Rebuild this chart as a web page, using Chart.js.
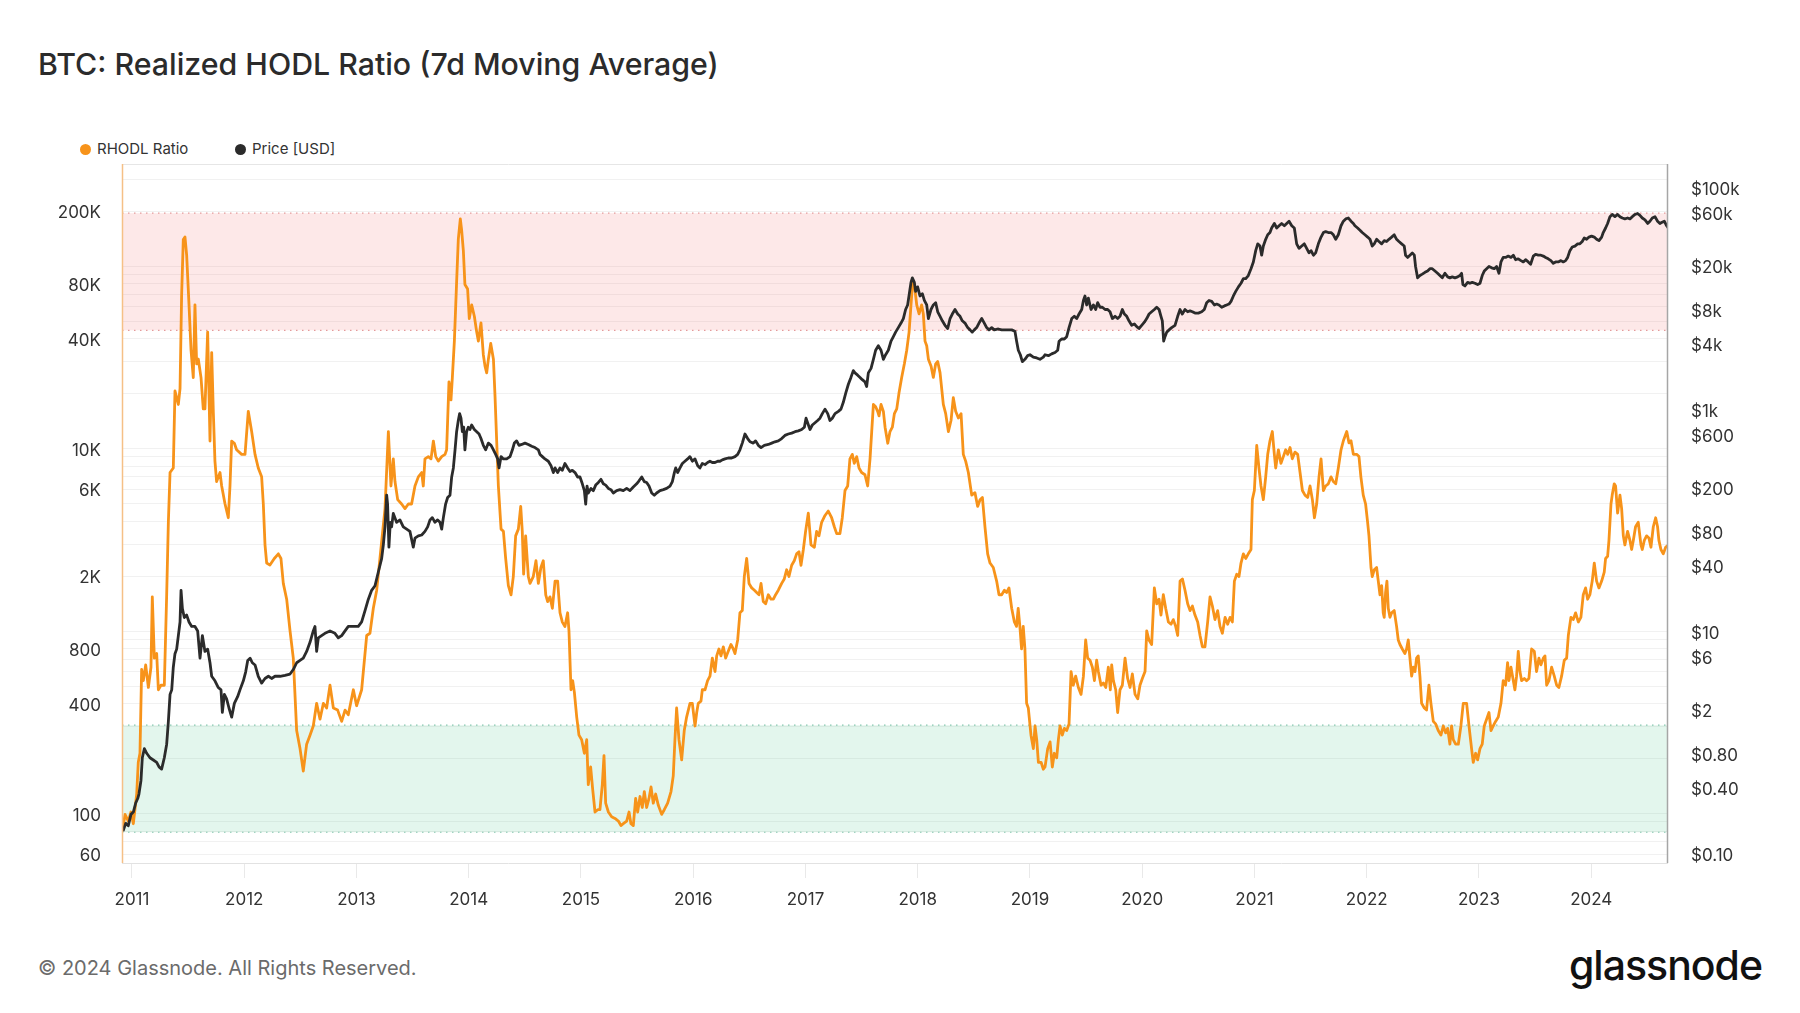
<!DOCTYPE html>
<html lang="en">
<head>
<meta charset="utf-8">
<title>BTC: Realized HODL Ratio (7d Moving Average)</title>
<script src="https://cdn.jsdelivr.net/npm/chart.js@4.4.1/dist/chart.umd.min.js"></script>
<style>
  html, body { margin: 0; padding: 0; background: #fff; }
  body { position: relative; width: 1800px; height: 1013px; overflow: hidden;
         font-family: Inter, "Noto Sans", sans-serif; color: #2b2b2b; }
  .title { position: absolute; left: 38px; top: 47px; font-size: 30.3px; line-height: 34px; font-weight: 500; white-space: nowrap; }
  .legend-item { position: absolute; top: 140px; display: flex; align-items: center; font-size: 15px; line-height: 18px; color: #333; white-space: nowrap; }
  .dot { width: 11px; height: 11px; border-radius: 50%; margin-right: 6px; }
  .chart-box { position: absolute; left: 0; top: 150px; width: 1800px; height: 770px; }
  .footer { position: absolute; left: 38px; top: 956px; font-size: 20px; line-height: 24px; color: #6b6b6b; white-space: nowrap; }
  .brand { position: absolute; right: 38px; top: 941px; font-size: 41px; line-height: 48px; font-weight: 500; letter-spacing: -1px; color: #111; }
</style>
</head>
<body>
<div class="title">BTC: Realized HODL Ratio (7d Moving Average)</div>
<div class="legend-item" style="left:80px"><span class="dot" style="background:#f7931a"></span>RHODL Ratio</div>
<div class="legend-item" style="left:235px"><span class="dot" style="background:#2b2b2b"></span>Price [USD]</div>
<div class="chart-box"><canvas id="rhodlChart"></canvas></div>
<div class="footer">© 2024 Glassnode. All Rights Reserved.</div>
<div class="brand">glassnode</div>

<script>
// x axis is decimal years
const yearTicks = [2011, 2012, 2013, 2014, 2015, 2016, 2017, 2018, 2019, 2020, 2021, 2022, 2023, 2024];
const rhodlTickLabels = [60, 100, 400, 800, 2000, 6000, 10000, 40000, 80000, 200000];
const priceTickLabels = [0.1, 0.4, 0.8, 2, 6, 10, 40, 80, 200, 600, 1000, 4000, 8000, 20000, 60000, 100000];
const redZone = [44500, 195000];
const greenZone = [79, 305];

const rhodlDates = [
  2010.923, 2010.938, 2010.967, 2010.991,
  2011.012, 2011.042, 2011.056, 2011.071, 2011.086, 2011.101, 2011.122, 2011.146, 2011.169, 2011.181, 2011.199, 2011.220, 2011.235, 2011.258, 2011.288, 2011.309, 2011.324, 2011.339, 2011.368, 2011.383, 2011.413, 2011.428, 2011.442, 2011.457, 2011.472, 2011.487, 2011.508, 2011.526, 2011.546, 2011.561, 2011.576, 2011.591, 2011.615, 2011.635, 2011.650, 2011.674, 2011.695, 2011.710, 2011.725, 2011.739, 2011.754, 2011.784, 2011.799, 2011.829, 2011.858, 2011.873, 2011.888, 2011.912, 2011.932, 2011.977,
  2012.007, 2012.036, 2012.066, 2012.096, 2012.125, 2012.155, 2012.170, 2012.185, 2012.200, 2012.229, 2012.268, 2012.304, 2012.327, 2012.348, 2012.378, 2012.408, 2012.437, 2012.467, 2012.497, 2012.526, 2012.556, 2012.586, 2012.615, 2012.645, 2012.675, 2012.705, 2012.734, 2012.764, 2012.794, 2012.832, 2012.868, 2012.898, 2012.927, 2012.972,
  2013.001, 2013.046, 2013.091, 2013.120, 2013.150, 2013.180, 2013.209, 2013.254, 2013.284, 2013.307, 2013.328, 2013.343, 2013.367, 2013.402, 2013.432, 2013.462, 2013.491, 2013.521, 2013.551, 2013.581, 2013.595, 2013.610, 2013.640, 2013.664, 2013.685, 2013.706, 2013.729, 2013.759, 2013.789, 2013.803, 2013.824, 2013.842, 2013.854, 2013.872, 2013.892, 2013.907, 2013.925, 2013.937, 2013.952, 2013.966, 2013.990,
  2014.005, 2014.026, 2014.050, 2014.071, 2014.086, 2014.109, 2014.130, 2014.145, 2014.160, 2014.175, 2014.196, 2014.220, 2014.234, 2014.249, 2014.264, 2014.288, 2014.309, 2014.329, 2014.353, 2014.377, 2014.397, 2014.418, 2014.442, 2014.463, 2014.477, 2014.489, 2014.507, 2014.531, 2014.546, 2014.575, 2014.599, 2014.620, 2014.643, 2014.664, 2014.686, 2014.703, 2014.724, 2014.745, 2014.769, 2014.792, 2014.813, 2014.834, 2014.857, 2014.881, 2014.893, 2014.911, 2014.926, 2014.941, 2014.962, 2014.982,
  2015.006, 2015.030, 2015.051, 2015.065, 2015.086, 2015.104, 2015.125, 2015.149, 2015.169, 2015.190, 2015.205, 2015.220, 2015.244, 2015.273, 2015.303, 2015.333, 2015.356, 2015.377, 2015.407, 2015.428, 2015.445, 2015.466, 2015.487, 2015.505, 2015.526, 2015.546, 2015.564, 2015.585, 2015.606, 2015.624, 2015.644, 2015.665, 2015.689, 2015.719, 2015.742, 2015.772, 2015.802, 2015.822, 2015.837, 2015.852, 2015.873, 2015.897, 2015.920, 2015.941, 2015.971, 2015.992,
  2016.016, 2016.031, 2016.045, 2016.069, 2016.081, 2016.105, 2016.128, 2016.149, 2016.170, 2016.194, 2016.209, 2016.229, 2016.247, 2016.268, 2016.289, 2016.312, 2016.336, 2016.357, 2016.372, 2016.396, 2016.416, 2016.437, 2016.455, 2016.476, 2016.497, 2016.521, 2016.545, 2016.565, 2016.586, 2016.604, 2016.624, 2016.645, 2016.669, 2016.693, 2016.714, 2016.734, 2016.758, 2016.788, 2016.811, 2016.832, 2016.853, 2016.877, 2016.900, 2016.921, 2016.942, 2016.960, 2016.981,
  2017.001, 2017.025, 2017.049, 2017.079, 2017.099, 2017.120, 2017.144, 2017.174, 2017.203, 2017.233, 2017.257, 2017.278, 2017.307, 2017.328, 2017.352, 2017.376, 2017.396, 2017.417, 2017.435, 2017.456, 2017.477, 2017.500, 2017.530, 2017.554, 2017.575, 2017.590, 2017.605, 2017.625, 2017.643, 2017.655, 2017.673, 2017.694, 2017.709, 2017.733, 2017.753, 2017.774, 2017.792, 2017.813, 2017.833, 2017.857, 2017.881, 2017.902, 2017.923, 2017.940, 2017.955, 2017.970, 2017.991,
  2018.012, 2018.035, 2018.050, 2018.065, 2018.080, 2018.095, 2018.119, 2018.139, 2018.160, 2018.178, 2018.199, 2018.228, 2018.249, 2018.273, 2018.297, 2018.317, 2018.338, 2018.362, 2018.386, 2018.406, 2018.427, 2018.451, 2018.481, 2018.510, 2018.534, 2018.555, 2018.576, 2018.599, 2018.623, 2018.644, 2018.673, 2018.703, 2018.724, 2018.748, 2018.772, 2018.792, 2018.813, 2018.837, 2018.861, 2018.880, 2018.895, 2018.910, 2018.925, 2018.940, 2018.955, 2018.970, 2018.985,
  2019.009, 2019.030, 2019.045, 2019.060, 2019.075, 2019.099, 2019.119, 2019.134, 2019.158, 2019.179, 2019.199, 2019.217, 2019.238, 2019.253, 2019.268, 2019.288, 2019.306, 2019.327, 2019.348, 2019.366, 2019.386, 2019.407, 2019.431, 2019.455, 2019.476, 2019.496, 2019.514, 2019.535, 2019.556, 2019.574, 2019.594, 2019.609, 2019.633, 2019.654, 2019.675, 2019.698, 2019.716, 2019.728, 2019.743, 2019.764, 2019.781, 2019.802, 2019.823, 2019.847, 2019.870, 2019.891, 2019.912, 2019.936, 2019.960, 2019.980,
  2020.001, 2020.025, 2020.040, 2020.060, 2020.084, 2020.108, 2020.129, 2020.150, 2020.167, 2020.188, 2020.209, 2020.233, 2020.257, 2020.277, 2020.298, 2020.316, 2020.337, 2020.358, 2020.381, 2020.405, 2020.426, 2020.447, 2020.470, 2020.494, 2020.515, 2020.536, 2020.559, 2020.583, 2020.604, 2020.625, 2020.648, 2020.672, 2020.693, 2020.714, 2020.738, 2020.761, 2020.782, 2020.803, 2020.821, 2020.842, 2020.862, 2020.880, 2020.901, 2020.922, 2020.945, 2020.969, 2020.981, 2020.999,
  2021.020, 2021.040, 2021.058, 2021.079, 2021.100, 2021.118, 2021.138, 2021.159, 2021.177, 2021.189, 2021.213, 2021.236, 2021.257, 2021.278, 2021.296, 2021.317, 2021.337, 2021.361, 2021.385, 2021.406, 2021.427, 2021.450, 2021.474, 2021.495, 2021.516, 2021.534, 2021.554, 2021.575, 2021.593, 2021.614, 2021.634, 2021.658, 2021.682, 2021.703, 2021.724, 2021.747, 2021.771, 2021.792, 2021.822, 2021.842, 2021.860, 2021.881, 2021.910, 2021.931, 2021.948, 2021.969, 2021.990,
  2022.008, 2022.020, 2022.038, 2022.049, 2022.067, 2022.088, 2022.103, 2022.118, 2022.133, 2022.147, 2022.156, 2022.168, 2022.180, 2022.192, 2022.207, 2022.222, 2022.245, 2022.266, 2022.281, 2022.296, 2022.317, 2022.340, 2022.355, 2022.370, 2022.385, 2022.400, 2022.415, 2022.430, 2022.444, 2022.459, 2022.474, 2022.489, 2022.513, 2022.533, 2022.554, 2022.572, 2022.593, 2022.614, 2022.637, 2022.661, 2022.682, 2022.703, 2022.721, 2022.741, 2022.756, 2022.771, 2022.792, 2022.816, 2022.839, 2022.860, 2022.890, 2022.911, 2022.934, 2022.949, 2022.970, 2022.988,
  2023.009, 2023.029, 2023.047, 2023.068, 2023.089, 2023.107, 2023.127, 2023.148, 2023.172, 2023.196, 2023.216, 2023.237, 2023.255, 2023.267, 2023.285, 2023.306, 2023.320, 2023.335, 2023.350, 2023.365, 2023.380, 2023.404, 2023.424, 2023.445, 2023.469, 2023.493, 2023.513, 2023.534, 2023.552, 2023.573, 2023.588, 2023.603, 2023.623, 2023.647, 2023.671, 2023.692, 2023.712, 2023.736, 2023.760, 2023.781, 2023.796, 2023.819, 2023.840, 2023.861, 2023.885, 2023.908, 2023.929, 2023.950, 2023.968, 2023.988,
  2024.009, 2024.027, 2024.048, 2024.069, 2024.093, 2024.116, 2024.128, 2024.146, 2024.158, 2024.176, 2024.187, 2024.205, 2024.217, 2024.235, 2024.256, 2024.271, 2024.286, 2024.300, 2024.324, 2024.345, 2024.360, 2024.375, 2024.395, 2024.419, 2024.443, 2024.455, 2024.473, 2024.493, 2024.514, 2024.532, 2024.553, 2024.574, 2024.591, 2024.603, 2024.621, 2024.642, 2024.663, 2024.686
];
const rhodlValues = [
  86, 99, 91, 102,
  88, 128, 191, 214, 617, 535, 653, 491, 634, 1540, 711, 753, 477, 505, 505, 1580, 3950, 7400, 7830, 20700, 17450, 21300, 68700, 140000, 144500, 115000, 61300, 34600, 24500, 61300, 29100, 30900, 24500, 16500, 16500, 43500, 11000, 33600, 15600, 8540, 6600, 7400, 6240, 4970, 4180, 6240, 11000, 10700, 9850, 9300,
  9300, 16000, 12400, 9300, 7830, 7000, 4970, 2970, 2360, 2300, 2500, 2650, 2500, 1825, 1495, 1003, 711, 285, 227, 171, 240, 269, 302, 402, 329, 402, 379, 505, 379, 369, 320, 369, 348, 477,
  390, 477, 946, 973, 1333, 1675, 2500, 4690, 12400, 6240, 8790, 6600, 5250, 4970, 4690, 4970, 4970, 6240, 7000, 7395, 6240, 8790, 9040, 8790, 11000, 9040, 8540, 9040, 9300, 9850, 23200, 18500, 24500, 38800, 81700, 140000, 181500, 157000, 121700, 79300, 74900,
  51600, 61300, 53100, 43500, 38800, 48800, 32700, 28300, 26000, 30900, 37700, 30900, 19500, 11000, 6240, 3620, 3520, 2500, 1775, 1580, 1990, 3325, 3620, 4820, 3520, 2050, 3325, 1990, 1825, 1990, 2430, 1825, 2230, 2430, 1580, 1450, 1540, 1333, 1880, 1880, 1260, 1120, 1060, 1260, 1003, 477, 535, 463, 338, 269,
  254, 214, 254, 144, 180, 136, 102, 105, 105, 144, 208, 114, 102, 96, 94, 91, 86, 88, 91, 102, 88, 86, 121, 102, 124, 108, 132, 108, 121, 140, 114, 128, 111, 99, 105, 114, 132, 161, 254, 379, 254, 197, 285, 338, 402, 402,
  302, 358, 402, 413, 477, 477, 535, 566, 711, 600, 731, 798, 731, 820, 711, 775, 844, 798, 753, 894, 1259, 1295, 1990, 2500, 1825, 1724, 1675, 1629, 1582, 1825, 1452, 1411, 1582, 1495, 1495, 1582, 1675, 1825, 1931, 2168, 1990, 2295, 2430, 2650, 2723, 2295, 2800,
  3520, 4430, 2965, 2880, 3520, 3325, 3945, 4300, 4550, 4180, 3730, 3420, 3420, 4180, 5890, 6240, 8790, 9300, 8300, 9040, 7830, 7395, 7190, 6240, 8790, 12400, 17450, 16950, 16000, 15100, 17450, 16000, 13100, 10700, 12400, 13100, 15550, 16500, 20150, 24550, 29150, 34600, 43500, 61300, 81700, 79300, 61300,
  54700, 61300, 54700, 38800, 36600, 30900, 28300, 24550, 29150, 30000, 26000, 17450, 15550, 12400, 14300, 19000, 16000, 14700, 15550, 9300, 8540, 7395, 5560, 5730, 4820, 5250, 5400, 3730, 2650, 2360, 2230, 1880, 1582, 1582, 1675, 1629, 1724, 1333, 1122, 1061, 1333, 1061, 798, 1061, 798, 402, 379,
  269, 227, 302, 254, 191, 191, 175, 180, 227, 247, 180, 214, 202, 254, 302, 269, 293, 285, 310, 600, 505, 566, 491, 450, 566, 894, 711, 692, 634, 535, 692, 600, 505, 520, 491, 634, 477, 653, 535, 477, 358, 477, 505, 711, 550, 491, 582, 450, 425, 505,
  550, 600, 1003, 894, 844, 1724, 1411, 1495, 1224, 1582, 1333, 1122, 1091, 1156, 1061, 946, 1879, 1931, 1675, 1411, 1295, 1372, 1224, 1122, 946, 820, 820, 1122, 1538, 1372, 1156, 1295, 1061, 973, 1189, 1091, 1189, 1122, 1879, 2048, 1990, 2360, 2650, 2500, 2650, 2800, 5250, 5890,
  10400, 7830, 6240, 5250, 7000, 9300, 11040, 12400, 9300, 7830, 9850, 8300, 9040, 9850, 9300, 10140, 8790, 9570, 9300, 7395, 5890, 5560, 5400, 6240, 5250, 4180, 4970, 7000, 8790, 5890, 6240, 6410, 7000, 6600, 6410, 7830, 9850, 11040, 12400, 10740, 11040, 9300, 9300, 9040, 7000, 5560, 4970,
  3945, 3325, 2230, 1990, 2168, 2230, 1879, 1582, 1775, 1259, 1189, 1629, 1879, 1333, 1189, 1259, 1295, 1061, 894, 844, 798, 753, 798, 894, 711, 566, 634, 600, 711, 731, 566, 402, 379, 369, 505, 402, 320, 310, 285, 269, 302, 277, 293, 240, 302, 254, 240, 240, 302, 402, 402, 302, 227, 191, 214, 197,
  227, 240, 302, 329, 358, 285, 302, 320, 338, 402, 535, 505, 671, 535, 634, 535, 477, 566, 775, 600, 535, 550, 535, 550, 798, 775, 600, 711, 653, 711, 731, 505, 535, 634, 566, 505, 491, 566, 692, 711, 946, 1189, 1156, 1259, 1122, 1189, 1582, 1724, 1495, 1582,
  1879, 2360, 1879, 1724, 1879, 2105, 2500, 2570, 3140, 4970, 5560, 6410, 6240, 4430, 5560, 4690, 3325, 2965, 3520, 3140, 2800, 3140, 3730, 3945, 2965, 2800, 3140, 3325, 3236, 2880, 3730, 4180, 3730, 3140, 2800, 2650, 2880, 2965
];

const priceDates = [
  2010.923, 2010.944, 2010.967, 2010.991,
  2011.012, 2011.033, 2011.051, 2011.062, 2011.080, 2011.092, 2011.110, 2011.131, 2011.160, 2011.190, 2011.220, 2011.241, 2011.264, 2011.288, 2011.309, 2011.324, 2011.339, 2011.354, 2011.368, 2011.383, 2011.398, 2011.413, 2011.428, 2011.437, 2011.449, 2011.466, 2011.487, 2011.508, 2011.532, 2011.561, 2011.585, 2011.606, 2011.627, 2011.650, 2011.674, 2011.695, 2011.710, 2011.739, 2011.769, 2011.793, 2011.805, 2011.823, 2011.843, 2011.864, 2011.888, 2011.912, 2011.941, 2011.962, 2011.992,
  2012.013, 2012.031, 2012.052, 2012.072, 2012.096, 2012.125, 2012.155, 2012.185, 2012.215, 2012.244, 2012.274, 2012.319, 2012.363, 2012.408, 2012.437, 2012.467, 2012.497, 2012.526, 2012.556, 2012.586, 2012.615, 2012.630, 2012.645, 2012.660, 2012.689, 2012.719, 2012.764, 2012.808, 2012.838, 2012.868, 2012.898, 2012.927, 2012.972,
  2013.016, 2013.046, 2013.076, 2013.105, 2013.135, 2013.165, 2013.194, 2013.224, 2013.239, 2013.254, 2013.269, 2013.277, 2013.289, 2013.301, 2013.313, 2013.328, 2013.357, 2013.387, 2013.417, 2013.447, 2013.476, 2013.506, 2013.521, 2013.551, 2013.581, 2013.610, 2013.634, 2013.655, 2013.676, 2013.699, 2013.723, 2013.744, 2013.759, 2013.774, 2013.794, 2013.812, 2013.833, 2013.848, 2013.863, 2013.878, 2013.892, 2013.907, 2013.919, 2013.931, 2013.943, 2013.955, 2013.966, 2013.981, 2013.996,
  2014.011, 2014.026, 2014.050, 2014.071, 2014.092, 2014.109, 2014.130, 2014.151, 2014.175, 2014.199, 2014.220, 2014.240, 2014.258, 2014.270, 2014.288, 2014.309, 2014.338, 2014.368, 2014.389, 2014.406, 2014.427, 2014.448, 2014.472, 2014.501, 2014.531, 2014.561, 2014.590, 2014.620, 2014.635, 2014.656, 2014.679, 2014.709, 2014.733, 2014.754, 2014.769, 2014.792, 2014.813, 2014.834, 2014.857, 2014.881, 2014.902, 2014.923, 2014.947, 2014.970, 2014.991,
  2015.012, 2015.030, 2015.042, 2015.054, 2015.065, 2015.089, 2015.110, 2015.131, 2015.155, 2015.178, 2015.199, 2015.220, 2015.244, 2015.267, 2015.288, 2015.318, 2015.347, 2015.377, 2015.407, 2015.436, 2015.466, 2015.496, 2015.517, 2015.541, 2015.564, 2015.585, 2015.606, 2015.630, 2015.653, 2015.674, 2015.704, 2015.734, 2015.763, 2015.793, 2015.814, 2015.832, 2015.844, 2015.861, 2015.882, 2015.903, 2015.926, 2015.950, 2015.971, 2015.992,
  2016.016, 2016.040, 2016.060, 2016.081, 2016.105, 2016.128, 2016.149, 2016.170, 2016.194, 2016.218, 2016.238, 2016.259, 2016.283, 2016.312, 2016.342, 2016.372, 2016.396, 2016.416, 2016.437, 2016.461, 2016.485, 2016.506, 2016.535, 2016.556, 2016.580, 2016.604, 2016.633, 2016.669, 2016.699, 2016.728, 2016.758, 2016.788, 2016.817, 2016.847, 2016.877, 2016.907, 2016.936, 2016.966, 2016.990,
  2017.005, 2017.019, 2017.040, 2017.061, 2017.085, 2017.108, 2017.129, 2017.150, 2017.174, 2017.198, 2017.218, 2017.239, 2017.263, 2017.293, 2017.316, 2017.337, 2017.358, 2017.382, 2017.405, 2017.426, 2017.441, 2017.465, 2017.486, 2017.506, 2017.530, 2017.545, 2017.560, 2017.584, 2017.605, 2017.625, 2017.649, 2017.673, 2017.694, 2017.714, 2017.738, 2017.762, 2017.783, 2017.803, 2017.827, 2017.851, 2017.872, 2017.892, 2017.910, 2017.925, 2017.940, 2017.952, 2017.970, 2017.981, 2017.999,
  2018.020, 2018.041, 2018.059, 2018.080, 2018.095, 2018.118, 2018.139, 2018.160, 2018.178, 2018.199, 2018.219, 2018.243, 2018.267, 2018.288, 2018.308, 2018.332, 2018.356, 2018.377, 2018.397, 2018.421, 2018.445, 2018.466, 2018.486, 2018.504, 2018.525, 2018.546, 2018.570, 2018.593, 2018.614, 2018.635, 2018.659, 2018.682, 2018.718, 2018.748, 2018.792, 2018.837, 2018.866, 2018.881, 2018.896, 2018.914, 2018.932, 2018.955, 2018.979,
  2019.000, 2019.030, 2019.060, 2019.089, 2019.119, 2019.134, 2019.164, 2019.193, 2019.223, 2019.247, 2019.259, 2019.282, 2019.306, 2019.327, 2019.348, 2019.372, 2019.395, 2019.416, 2019.437, 2019.461, 2019.476, 2019.490, 2019.505, 2019.520, 2019.544, 2019.565, 2019.585, 2019.603, 2019.624, 2019.645, 2019.669, 2019.692, 2019.713, 2019.734, 2019.758, 2019.781, 2019.802, 2019.823, 2019.841, 2019.862, 2019.882, 2019.906, 2019.930, 2019.951, 2019.971, 2019.995,
  2020.019, 2020.040, 2020.061, 2020.084, 2020.108, 2020.129, 2020.150, 2020.167, 2020.179, 2020.191, 2020.203, 2020.218, 2020.239, 2020.262, 2020.292, 2020.316, 2020.337, 2020.357, 2020.381, 2020.405, 2020.426, 2020.447, 2020.470, 2020.500, 2020.530, 2020.553, 2020.574, 2020.595, 2020.619, 2020.643, 2020.663, 2020.684, 2020.708, 2020.732, 2020.752, 2020.773, 2020.791, 2020.812, 2020.833, 2020.857, 2020.880, 2020.901, 2020.922, 2020.945, 2020.969, 2020.990,
  2021.011, 2021.029, 2021.049, 2021.064, 2021.079, 2021.100, 2021.118, 2021.138, 2021.153, 2021.177, 2021.198, 2021.219, 2021.242, 2021.266, 2021.287, 2021.308, 2021.332, 2021.355, 2021.376, 2021.397, 2021.421, 2021.444, 2021.465, 2021.486, 2021.504, 2021.525, 2021.545, 2021.569, 2021.593, 2021.614, 2021.634, 2021.658, 2021.682, 2021.703, 2021.724, 2021.747, 2021.771, 2021.792, 2021.813, 2021.837, 2021.860, 2021.881, 2021.895, 2021.919, 2021.940, 2021.960, 2021.984,
  2022.008, 2022.029, 2022.049, 2022.067, 2022.088, 2022.109, 2022.133, 2022.156, 2022.177, 2022.198, 2022.222, 2022.245, 2022.266, 2022.287, 2022.311, 2022.334, 2022.346, 2022.364, 2022.385, 2022.406, 2022.424, 2022.435, 2022.453, 2022.474, 2022.495, 2022.519, 2022.542, 2022.563, 2022.584, 2022.608, 2022.631, 2022.652, 2022.673, 2022.697, 2022.721, 2022.741, 2022.762, 2022.786, 2022.810, 2022.830, 2022.845, 2022.857, 2022.875, 2022.899, 2022.919, 2022.940, 2022.964, 2022.988,
  2023.009, 2023.029, 2023.047, 2023.068, 2023.089, 2023.113, 2023.136, 2023.157, 2023.178, 2023.196, 2023.216, 2023.237, 2023.261, 2023.285, 2023.306, 2023.326, 2023.350, 2023.374, 2023.395, 2023.415, 2023.439, 2023.460, 2023.484, 2023.504, 2023.528, 2023.552, 2023.573, 2023.594, 2023.617, 2023.641, 2023.662, 2023.683, 2023.706, 2023.730, 2023.751, 2023.772, 2023.790, 2023.810, 2023.831, 2023.855, 2023.879, 2023.899, 2023.920, 2023.938, 2023.959, 2023.980,
  2024.003, 2024.027, 2024.048, 2024.069, 2024.093, 2024.107, 2024.128, 2024.146, 2024.167, 2024.187, 2024.211, 2024.235, 2024.256, 2024.277, 2024.300, 2024.324, 2024.345, 2024.366, 2024.390, 2024.413, 2024.434, 2024.455, 2024.479, 2024.503, 2024.523, 2024.544, 2024.568, 2024.591, 2024.612, 2024.627, 2024.651, 2024.672, 2024.686
];
const priceValues = [
  0.165, 0.19, 0.181, 0.229,
  0.24, 0.29, 0.318, 0.349, 0.463, 0.741, 0.894, 0.813, 0.741, 0.707, 0.674, 0.614, 0.586, 0.741, 0.982, 1.57, 2.76, 3.03, 4.85, 6.42, 7.06, 9.35, 12.4, 23.9, 16.4, 13.6, 14.3, 12.4, 11.3, 11.3, 10.3, 5.85, 9.35, 6.73, 7.06, 5.32, 4.02, 3.66, 3.18, 3.03, 1.9, 2.76, 2.51, 2.08, 1.72, 2.29, 2.63, 3.03, 3.66,
  4.41, 5.58, 5.85, 5.32, 5.08, 4.02, 3.49, 3.84, 4.02, 3.84, 4.02, 4.02, 4.1, 4.21, 4.62, 5.32, 5.58, 5.85, 6.73, 8.13, 10.3, 11.3, 6.73, 8.93, 9.35, 9.8, 10.3, 9.8, 8.93, 9.35, 10.3, 11.3, 11.3,
  11.3, 12.4, 15.7, 19.8, 23.9, 26.3, 34.8, 46.2, 61.2, 89.2, 172, 143, 58.5, 98, 89.2, 118, 98, 103, 89.2, 85.1, 81.2, 58.5, 70.5, 73.9, 75.3, 81.2, 89.2, 103, 108, 98, 103, 98, 85, 108, 143, 164, 172, 251, 303, 441, 642, 811, 934, 850, 642, 705, 441, 642, 705,
  672, 738, 672, 642, 612, 557, 484, 441, 507, 484, 441, 401, 365, 303, 383, 365, 365, 383, 441, 507, 531, 484, 493, 507, 493, 475, 462, 441, 401, 383, 365, 348, 317, 275, 303, 275, 303, 288, 332, 303, 281, 288, 275, 251, 251,
  218, 189, 143, 208, 180, 198, 189, 212, 224, 239, 218, 212, 198, 193, 180, 189, 193, 189, 198, 189, 204, 218, 232, 251, 228, 224, 208, 180, 172, 180, 189, 193, 198, 208, 228, 275, 303, 275, 303, 332, 348, 365, 383, 348,
  365, 317, 303, 332, 325, 339, 348, 339, 339, 348, 348, 358, 365, 372, 372, 383, 401, 441, 507, 612, 557, 521, 507, 531, 484, 462, 484, 493, 507, 521, 531, 557, 595, 612, 624, 642, 653, 672, 705,
  850, 774, 672, 738, 774, 811, 850, 934, 1026, 934, 811, 850, 934, 979, 1026, 1181, 1425, 1718, 1981, 2281, 2175, 2075, 1981, 1889, 1803, 1641, 2175, 2388, 2884, 3478, 3821, 3478, 2884, 3170, 3478, 4196, 4610, 5066, 5565, 6114, 6716, 8103, 8902, 11250, 14230, 15630, 14230, 11800, 12960,
  10730, 11250, 9774, 8902, 6716, 8103, 8902, 9330, 7730, 7036, 6410, 5837, 5462, 6716, 7380, 8103, 7380, 7036, 6410, 6114, 5565, 5310, 5066, 5310, 5565, 6114, 6716, 6114, 5565, 5310, 5565, 5310, 5409, 5310, 5310, 5310, 5159, 4196, 3478, 3170, 2749, 2884, 3110,
  3170, 3020, 2966, 2884, 3020, 3170, 3110, 3228, 3320, 3478, 4196, 4395, 4395, 4610, 5565, 6716, 7036, 6716, 7380, 8103, 9774, 10730, 8902, 10250, 8103, 8902, 8103, 9330, 8490, 8490, 8103, 8103, 7730, 6716, 7036, 6716, 7036, 8103, 7380, 7036, 6410, 5837, 6000, 5680, 5462, 5837,
  6230, 6716, 7380, 7730, 8103, 8490, 8103, 7036, 6410, 4196, 4610, 5066, 5310, 5565, 5837, 7036, 8103, 7380, 8103, 7730, 7870, 7730, 7520, 7520, 7730, 8103, 9330, 9774, 9594, 8902, 9076, 8902, 8490, 8735, 8902, 9076, 9594, 10730, 11800, 12960, 13970, 15350, 15350, 16390, 18900, 21740,
  27480, 31640, 30220, 25000, 30220, 34760, 38190, 40000, 43950, 48290, 43950, 46060, 48290, 46060, 48290, 50600, 46060, 43950, 31640, 28800, 30220, 31640, 28800, 26230, 27480, 25000, 26230, 31640, 36400, 40000, 40770, 40000, 40000, 38190, 34760, 38190, 46060, 50600, 53090, 54060, 50600, 48290, 46060, 43950, 41950, 40000, 38190,
  36400, 34760, 30220, 31640, 34760, 33190, 31640, 33800, 33190, 34760, 36400, 38190, 34760, 33190, 31640, 30220, 25000, 23870, 25000, 26230, 25000, 19770, 15630, 16390, 16870, 17510, 17990, 18900, 18900, 17990, 17180, 16390, 15630, 17180, 15930, 15630, 15930, 15630, 15930, 16390, 17180, 13580, 13210, 14230, 13970, 14230, 13970, 13580,
  13970, 16390, 17990, 18900, 19770, 19220, 18900, 19770, 17180, 21740, 23870, 23870, 24550, 23870, 25000, 22770, 23200, 22340, 21740, 22770, 21740, 20740, 24550, 25470, 25000, 25000, 24550, 23870, 23200, 22340, 21130, 21740, 21740, 22340, 21740, 22340, 23870, 27480, 29650, 30220, 31640, 31640, 33190, 35730, 34760, 36400,
  37150, 36400, 34760, 33800, 36400, 40000, 43950, 48290, 55600, 58210, 55600, 58210, 55600, 54060, 53090, 54060, 53090, 55600, 58210, 59370, 57150, 54060, 52030, 48290, 50600, 54060, 55600, 50600, 48290, 49200, 50600, 46060, 43950
];

const xMin = 2010.911, xMax = 2024.684;
const rhodlMin = 53.6, rhodlMax = 362700;
const priceMin = 0.0835, priceMax = 165800;

const toPoints = (xs, ys) => xs.slice(0, Math.min(xs.length, ys.length)).map((x, i) => ({ x, y: ys[i] }));

const fmtRhodl = v => v >= 1000 ? (v / 1000) + 'K' : String(v);
const fmtPrice = v => v >= 1000 ? '$' + (v / 1000) + 'k' : (v < 1 ? '$' + v.toFixed(2) : '$' + v);

// 1..9 x 10^n lines between min and max, for the faint horizontal grid
function logGrid(min, max) {
    const out = [];
    for (let e = -2; e <= 6; e++) {
        for (let m = 1; m <= 9; m++) {
            const v = +(m * Math.pow(10, e)).toPrecision(6);
            if (v >= min && v <= max) out.push(v);
        }
    }
    return out;
}

// keep tick padding from pushing the plot area down
const fixWidth = w => s => {
    s.width = w;
    s.paddingTop = 0;
    s.paddingBottom = 0;
};

const zones = [
    { from: redZone[0], to: redZone[1], fill: 'rgba(240, 80, 80, 0.13)', edge: '#e39a9a' },
    { from: greenZone[0], to: greenZone[1], fill: 'rgba(60, 190, 130, 0.14)', edge: '#86c6b0' }
];

const zonePlugin = {
    id: 'zones',
    beforeDatasetsDraw(chart) {
        const { ctx, chartArea: a, scales } = chart;
        const y = scales.y;
        zones.forEach(z => {
            const top = y.getPixelForValue(z.to);
            const bottom = y.getPixelForValue(z.from);
            ctx.save();
            ctx.fillStyle = z.fill;
            ctx.fillRect(a.left, top, a.right - a.left, bottom - top);
            ctx.strokeStyle = z.edge;
            ctx.lineWidth = 1.2;
            ctx.setLineDash([1.5, 4.5]);
            [top, bottom].forEach(py => {
                ctx.beginPath();
                ctx.moveTo(a.left, py);
                ctx.lineTo(a.right, py);
                ctx.stroke();
            });
            ctx.restore();
        });
    }
};

const framePlugin = {
    id: 'frame',
    afterDatasetsDraw(chart) {
        const { ctx, chartArea: a } = chart;
        const line = (x1, y1, x2, y2, color, w) => {
            ctx.beginPath();
            ctx.strokeStyle = color;
            ctx.lineWidth = w;
            ctx.moveTo(x1, y1);
            ctx.lineTo(x2, y2);
            ctx.stroke();
        };
        ctx.save();
        line(a.left, a.top + 0.5, a.right, a.top + 0.5, '#e6e6e6', 1);
        line(a.left, a.bottom + 0.5, a.right, a.bottom + 0.5, '#e2e2e2', 1);
        line(a.left + 0.5, a.top, a.left + 0.5, a.bottom, '#f5c086', 1.5);
        line(a.right - 0.5, a.top, a.right - 0.5, a.bottom, '#a6a6a6', 1.5);
        ctx.restore();
    }
};

Chart.defaults.font.family = 'Inter, "Noto Sans", sans-serif';
Chart.defaults.color = '#333';

new Chart(document.getElementById('rhodlChart').getContext('2d'), {
    type: 'line',
    data: {
        datasets: [
            {
                label: 'RHODL Ratio',
                data: toPoints(rhodlDates, rhodlValues),
                yAxisID: 'y',
                borderColor: '#f7931a',
                borderWidth: 2.8,
                pointRadius: 0,
                tension: 0,
                order: 1
            },
            {
                label: 'Price [USD]',
                data: toPoints(priceDates, priceValues),
                yAxisID: 'y1',
                borderColor: '#2b2b2b',
                borderWidth: 2.8,
                pointRadius: 0,
                tension: 0,
                order: 0
            }
        ]
    },
    options: {
        responsive: true,
        maintainAspectRatio: false,
        animation: false,
        events: [],
        layout: { padding: { top: 14, left: 0, right: 0, bottom: 0 } },
        elements: { line: { borderJoinStyle: 'round', borderCapStyle: 'round' } },
        plugins: { legend: { display: false }, tooltip: { enabled: false } },
        scales: {
            x: {
                type: 'linear',
                min: xMin,
                max: xMax,
                afterFit: s => { s.height = 57; },
                afterBuildTicks: s => { s.ticks = yearTicks.map(v => ({ value: v })); },
                grid: { drawOnChartArea: false, color: '#e9e9e9', tickLength: 15 },
                border: { display: false },
                ticks: { autoSkip: false, maxRotation: 0, padding: 12, color: '#333', font: { size: 17 }, callback: v => String(v) }
            },
            y: {
                type: 'logarithmic',
                position: 'left',
                min: rhodlMin,
                max: rhodlMax,
                afterFit: fixWidth(122),
                afterBuildTicks: s => { s.ticks = logGrid(rhodlMin, rhodlMax).map(v => ({ value: v })); },
                grid: { color: 'rgba(0, 0, 0, 0.055)', lineWidth: 1, drawTicks: false },
                border: { display: false },
                ticks: {
                    autoSkip: false, padding: 21, labelOffset: 2, color: '#333', font: { size: 17 },
                    callback: v => rhodlTickLabels.includes(v) ? fmtRhodl(v) : ''
                }
            },
            y1: {
                type: 'logarithmic',
                position: 'right',
                min: priceMin,
                max: priceMax,
                afterFit: fixWidth(132),
                afterBuildTicks: s => { s.ticks = priceTickLabels.map(v => ({ value: v })); },
                grid: { drawOnChartArea: false, drawTicks: false },
                border: { display: false },
                ticks: { autoSkip: false, padding: 23, labelOffset: 2, color: '#333', font: { size: 17 }, callback: v => fmtPrice(v) }
            }
        }
    },
    plugins: [zonePlugin, framePlugin]
});
</script>
</body>
</html>
